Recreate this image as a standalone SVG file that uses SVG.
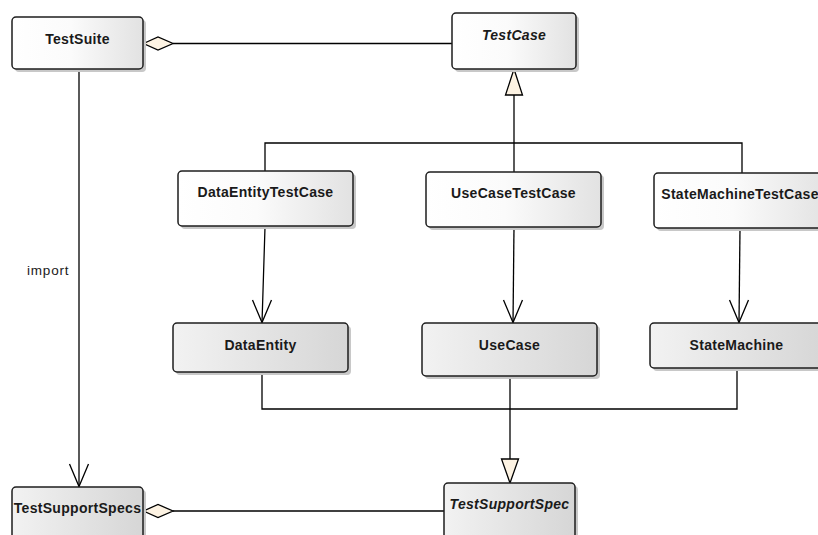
<svg xmlns="http://www.w3.org/2000/svg" width="818" height="535" viewBox="0 0 818 535">
<defs>
<linearGradient id="g1" x1="0" y1="0" x2="1" y2="0">
<stop offset="0" stop-color="#ffffff"/>
<stop offset="0.45" stop-color="#fbfbfb"/>
<stop offset="1" stop-color="#e2e2e2"/>
</linearGradient>
<linearGradient id="g2" x1="0" y1="0" x2="1" y2="0">
<stop offset="0" stop-color="#f2f2f2"/>
<stop offset="1" stop-color="#d6d6d6"/>
</linearGradient>
<style>
.shadow{fill:#c8c8c8;}
.b1{fill:url(#g1);stroke:#1e1e1e;stroke-width:1.5;}
.b2{fill:url(#g2);stroke:#1e1e1e;stroke-width:1.5;}
.t{font-family:"Liberation Sans",Arial,sans-serif;font-weight:bold;font-size:14px;letter-spacing:0.3px;fill:#1a1a1a;text-anchor:middle;}
.i{font-style:italic;}
.c{fill:none;stroke:#000;stroke-width:1.3;}
.h{fill:#fdf3e3;stroke:#000;stroke-width:1.3;}
.lbl{font-family:"Liberation Sans",Arial,sans-serif;font-size:13.5px;letter-spacing:0.8px;fill:#1a1a1a;}
</style>
</defs>
<rect width="818" height="535" fill="#ffffff"/>

<g id="connectors">
<line class="c" x1="173" y1="43.5" x2="452" y2="43.5"/>
<polygon class="h" points="143.5,43.5 158,37 173,43.5 158,50"/>
<polyline class="c" points="265,171 265,143 742,143 742,173"/>
<line class="c" x1="514" y1="95" x2="514" y2="172"/>
<polygon class="h" points="514,69 522.5,95 505.5,95"/>
<line class="c" x1="265" y1="227" x2="262" y2="323"/>
<polyline class="c" points="252.5,300 262,322.5 271.5,300"/>
<line class="c" x1="514" y1="227" x2="513" y2="323"/>
<polyline class="c" points="503.5,300 513,322.5 522.5,300"/>
<line class="c" x1="740" y1="228" x2="739" y2="323"/>
<polyline class="c" points="729.5,300 739,322.5 748.5,300"/>
<polyline class="c" points="262,372 262,409 737,409 737,368"/>
<line class="c" x1="510" y1="376" x2="510" y2="459"/>
<polygon class="h" points="510,483 518.5,459 501.5,459"/>
<line class="c" x1="79" y1="69" x2="79" y2="487"/>
<polyline class="c" points="69.5,464 79,486.5 88.5,464"/>
<text class="lbl" x="27" y="275">import</text>
<line class="c" x1="173" y1="511" x2="444" y2="511"/>
<polygon class="h" points="143.5,511 158,504.5 173,511 158,517.5"/>
</g>

<g id="TestSuite">
<rect class="shadow" x="15" y="20" width="131" height="52" rx="4"/>
<rect class="b1" x="12" y="17" width="131" height="52" rx="4"/>
<text class="t" x="77.5" y="44">TestSuite</text>
</g>

<g id="TestCase">
<rect class="shadow" x="455" y="16" width="124" height="56" rx="4"/>
<rect class="b1" x="452" y="13" width="124" height="56" rx="4"/>
<text class="t i" x="514" y="40">TestCase</text>
</g>

<g id="DataEntityTestCase">
<rect class="shadow" x="181" y="174" width="175" height="55" rx="4"/>
<rect class="b1" x="178" y="171" width="175" height="55" rx="4"/>
<text class="t" x="265.5" y="197">DataEntityTestCase</text>
</g>

<g id="UseCaseTestCase">
<rect class="shadow" x="429" y="175" width="175" height="55" rx="4"/>
<rect class="b1" x="426" y="172" width="175" height="55" rx="4"/>
<text class="t" x="513.5" y="198">UseCaseTestCase</text>
</g>

<g id="StateMachineTestCase">
<rect class="shadow" x="657" y="176" width="175" height="55" rx="4"/>
<rect class="b1" x="654" y="173" width="175" height="55" rx="4"/>
<text class="t" x="740" y="199">StateMachineTestCase</text>
</g>

<g id="DataEntity">
<rect class="shadow" x="176" y="326" width="175" height="49" rx="4"/>
<rect class="b2" x="173" y="323" width="175" height="49" rx="4"/>
<text class="t" x="260.5" y="350">DataEntity</text>
</g>

<g id="UseCase">
<rect class="shadow" x="425" y="326" width="175" height="53" rx="4"/>
<rect class="b2" x="422" y="323" width="175" height="53" rx="4"/>
<text class="t" x="509.5" y="350">UseCase</text>
</g>

<g id="StateMachine">
<rect class="shadow" x="653" y="326" width="175" height="45" rx="4"/>
<rect class="b2" x="650" y="323" width="175" height="45" rx="4"/>
<text class="t" x="736.5" y="350">StateMachine</text>
</g>

<g id="TestSupportSpecs">
<rect class="shadow" x="15" y="490" width="131" height="60" rx="4"/>
<rect class="b2" x="12" y="487" width="131" height="60" rx="4"/>
<text class="t" x="77.5" y="513">TestSupportSpecs</text>
</g>

<g id="TestSupportSpec">
<rect class="shadow" x="447" y="486" width="131" height="60" rx="4"/>
<rect class="b2" x="444" y="483" width="131" height="60" rx="4"/>
<text class="t i" x="509.5" y="509">TestSupportSpec</text>
</g>
</svg>
